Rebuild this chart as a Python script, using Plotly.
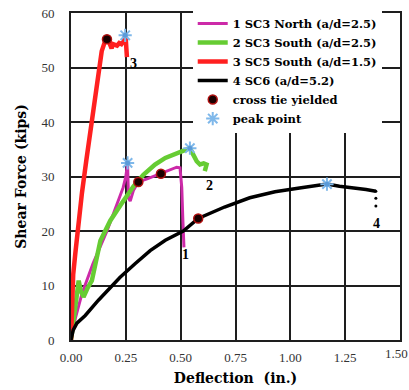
import plotly.graph_objects as go

# SC3 North (1)
x1 = [0, 0.02, 0.05, 0.10, 0.164, 0.20, 0.238, 0.25, 0.258, 0.262, 0.27, 0.285, 0.307, 0.35, 0.41, 0.45, 0.482, 0.497, 0.505, 0.51, 0.515]
y1 = [0, 4, 8.5, 14, 20, 24, 28, 30, 32.4, 26, 25.5, 27.5, 29.0, 29.6, 30.5, 31.2, 31.7, 31.6, 28, 22, 17]
# SC3 South (2)
x2 = [0, 0.02, 0.035, 0.045, 0.057, 0.075, 0.095, 0.134, 0.179, 0.23, 0.285, 0.33, 0.383, 0.43, 0.482, 0.52, 0.542, 0.555, 0.573, 0.588, 0.605, 0.618, 0.61]
y2 = [0, 6, 10.9, 9, 7.9, 9.5, 10.9, 18.2, 21.9, 25, 28.2, 30.3, 32.2, 33.4, 34.3, 34.9, 35.2, 34.2, 32.8, 32.2, 32.4, 32.2, 31]
# SC5 South (3)
x3 = [0, 0.005, 0.01, 0.02, 0.03, 0.05, 0.07, 0.09, 0.11, 0.125, 0.14, 0.155, 0.164, 0.175, 0.185, 0.19, 0.20, 0.21, 0.22, 0.23, 0.24, 0.247, 0.25, 0.252, 0.255]
y3 = [0, 8, 12, 16, 20, 27, 33, 39, 45, 49.5, 53, 54.8, 55.2, 54.5, 53.5, 54.3, 54.2, 54.0, 54.5, 54.3, 54.8, 55.9, 55.0, 53.0, 51.9]
# SC6 (4)
x4 = [0, 0.01, 0.027, 0.065, 0.125, 0.175, 0.224, 0.292, 0.361, 0.43, 0.512, 0.58, 0.70, 0.815, 0.93, 1.042, 1.133, 1.167, 1.224, 1.30, 1.345, 1.39]
y4 = [0, 1.8, 3.1, 4.5, 7.3, 9.5, 11.5, 14.0, 16.4, 18.3, 20.0, 22.3, 24.4, 26.1, 27.2, 27.9, 28.5, 28.6, 28.2, 27.9, 27.6, 27.3]
x4_tail = [1.39, 1.39, 1.39]
y4_tail = [27.3, 26.0, 24.6]

# cross tie yielded points
xc = [0.164, 0.307, 0.41, 0.58]
yc = [55.2, 29.0, 30.5, 22.3]
# peak points
xp = [0.247, 0.258, 0.542, 1.167]
yp = [55.9, 32.5, 35.2, 28.6]

labels = ["1", "2", "3", "4"]
lx = [0.52, 0.63, 0.285, 1.393]
ly = [15.6, 28.4, 50.8, 21.3]

names = ["1 SC3 North (a/d=2.5)", "2 SC3 South (a/d=2.5)", "3 SC5 South (a/d=1.5)", "4 SC6 (a/d=5.2)"]
xticks = [0, 0.25, 0.5, 0.75, 1.0, 1.25, 1.5]
yticks = [0, 10, 20, 30, 40, 50, 60]

FONT = "DejaVu Serif"
SERIF = "Liberation Serif"
GRID = "rgb(30,30,30)"

fig = go.Figure()

fig.add_trace(go.Scatter(x=x1, y=y1, mode="lines", name=names[0], line=dict(color="#cc2aa8", width=3)))
fig.add_trace(go.Scatter(x=x2, y=y2, mode="lines", name=names[1], line=dict(color="#66cc33", width=4.5)))
fig.add_trace(go.Scatter(x=x3, y=y3, mode="lines", name=names[2], line=dict(color="#ff2020", width=4.5)))
fig.add_trace(go.Scatter(x=x4, y=y4, mode="lines", name=names[3], line=dict(color="black", width=3.5)))
fig.add_trace(go.Scatter(x=x4_tail, y=y4_tail, mode="markers", showlegend=False,
                         marker=dict(color="black", size=3)))
fig.add_trace(go.Scatter(x=xc, y=yc, mode="markers", name="cross tie yielded",
                         marker=dict(symbol="circle", color="#1a0000", size=9, line=dict(color="#b01010", width=1.5))))
fig.add_trace(go.Scatter(x=xp, y=yp, mode="markers", name="peak point",
                         marker=dict(symbol="asterisk-open", color="#7fb8ea", size=11, line=dict(color="#7fb8ea", width=2))))
fig.add_trace(go.Scatter(x=xp, y=yp, mode="markers", showlegend=False,
                         marker=dict(symbol="circle", color="#5a9ad8", size=5)))

for t, a, b in zip(labels, lx, ly):
    fig.add_annotation(x=a, y=b, text=t, showarrow=False,
                       font=dict(family=SERIF, size=14, color="black", weight="bold"))

# last x tick label placed as annotation so it is not dropped at the paper edge
fig.add_annotation(x=xticks[-1], y=0, xref="x", yref="paper", yanchor="top", xanchor="center",
                   yshift=-4, xshift=-4,
                   text=f"{xticks[-1]:.2f}", showarrow=False,
                   font=dict(family=SERIF, size=13, color="#333333"))

fig.update_xaxes(range=[0, 1.5], tickvals=xticks[:-1], ticktext=[f"{v:.2f}" for v in xticks[:-1]],
                 showgrid=True, gridcolor=GRID, gridwidth=2, griddash="solid", layer="below traces",
                 automargin=False,
                 showline=True, linecolor=GRID, linewidth=2, mirror=True, zeroline=False,
                 ticks="", ticklabelstandoff=4,
                 tickfont=dict(family=SERIF, size=13, color="#333333"),
                 title=dict(text="Deflection  (in.)", standoff=10,
                            font=dict(family=FONT, size=14, color="black", weight="bold")))
fig.update_yaxes(range=[0, 60], tickvals=yticks, ticktext=[str(v) for v in yticks],
                 showgrid=True, gridcolor=GRID, gridwidth=2, griddash="solid", layer="below traces",
                 automargin=False,
                 showline=True, linecolor=GRID, linewidth=2, mirror=True, zeroline=False,
                 ticks="", ticklabelstandoff=12,
                 tickfont=dict(family=SERIF, size=13, color="#333333"),
                 title=dict(text="Shear Force (kips)", standoff=12,
                            font=dict(family=FONT, size=14, color="black", weight="bold")))

fig.update_layout(
    width=409, height=390,
    margin=dict(l=71, r=9, t=11, b=50),
    plot_bgcolor="white", paper_bgcolor="white",
    legend=dict(x=0.37, y=1.012, xanchor="left", yanchor="top", bgcolor="white",
                font=dict(family=FONT, size=11.5, color="black", weight="bold"),
                itemwidth=30, tracegroupgap=0, borderwidth=0),
    showlegend=True,
)

fig.write_html("out.html")
